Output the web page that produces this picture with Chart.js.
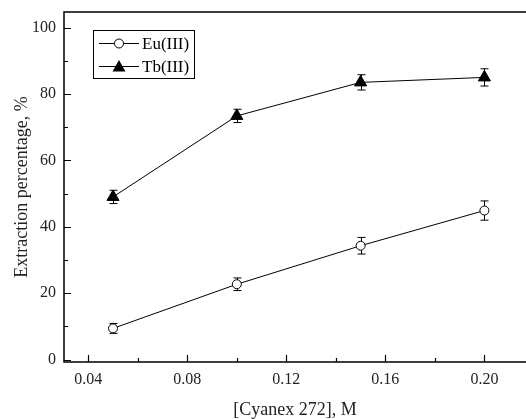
<!DOCTYPE html>
<html lang="en">
<head>
<meta charset="UTF-8" />
<title>Extraction percentage vs Cyanex 272</title>
<script src="https://cdn.jsdelivr.net/npm/chart.js"></script>
<style>
  body { margin: 0; background: #fff; }
  #myChart { display: block; }
</style>
</head>
<body>
<canvas id="myChart" width="526" height="419"></canvas>
<script>
  // data
  var concentrations = [0.05, 0.10, 0.15, 0.20];
  var euValues = [9.4, 22.7, 34.3, 44.9];
  var euErrors = [1.5, 1.9, 2.5, 2.9];
  var tbValues = [49.0, 73.4, 83.5, 85.0];
  var tbErrors = [2.0, 2.0, 2.3, 2.6];
  var seriesNames = ["Eu(III)", "Tb(III)"];

  // axis ticks
  var xTicks = [0.04, 0.06, 0.08, 0.10, 0.12, 0.14, 0.16, 0.18, 0.20];
  var xLabelled = [0.04, 0.08, 0.12, 0.16, 0.20];
  var yTicks = [0, 10, 20, 30, 40, 50, 60, 70, 80, 90, 100];
  var yLabelled = [0, 20, 40, 60, 80, 100];

  var serif = "'Liberation Serif', 'DejaVu Serif', serif";

  function isLabelled(list, v) {
    return list.some(function (t) { return Math.abs(t - v) < 1e-9; });
  }

  function toPoints(values) {
    return values.map(function (v, i) { return { x: concentrations[i], y: v }; });
  }

  // axes frame (right side falls off the picture) + inward ticks
  var framePlugin = {
    id: "frame",
    afterDraw: function (chart) {
      var ctx = chart.ctx;
      var a = chart.chartArea;
      var xs = chart.scales.x;
      var ys = chart.scales.y;
      ctx.save();
      ctx.strokeStyle = "#000";
      ctx.lineWidth = 1.5;
      ctx.beginPath();
      ctx.moveTo(chart.width, a.top);
      ctx.lineTo(a.left, a.top);
      ctx.lineTo(a.left, a.bottom);
      ctx.lineTo(chart.width, a.bottom);
      ctx.stroke();
      ctx.lineWidth = 1.2;
      ctx.beginPath();
      xs.ticks.forEach(function (t) {
        var px = Math.round(xs.getPixelForValue(t.value)) + 0.5;
        var len = isLabelled(xLabelled, t.value) ? 7 : 4;
        ctx.moveTo(px, a.bottom);
        ctx.lineTo(px, a.bottom - len);
      });
      ys.ticks.forEach(function (t) {
        var py = Math.round(ys.getPixelForValue(t.value)) + 0.5;
        var len = isLabelled(yLabelled, t.value) ? 7 : 4;
        ctx.moveTo(a.left, py);
        ctx.lineTo(a.left + len, py);
      });
      ctx.stroke();
      ctx.restore();
    }
  };

  // error bars, drawn under the markers
  var errorBarPlugin = {
    id: "errorBars",
    beforeDatasetsDraw: function (chart) {
      var ctx = chart.ctx;
      var ys = chart.scales.y;
      ctx.save();
      ctx.strokeStyle = "#000";
      ctx.lineWidth = 1;
      chart.data.datasets.forEach(function (ds, di) {
        var meta = chart.getDatasetMeta(di);
        meta.data.forEach(function (pt, i) {
          var v = ds.data[i].y;
          var e = ds.errors[i];
          var top = ys.getPixelForValue(v + e);
          var bot = ys.getPixelForValue(v - e);
          var x = Math.round(pt.x) + 0.5;
          ctx.beginPath();
          ctx.moveTo(x, top);
          ctx.lineTo(x, bot);
          ctx.moveTo(x - 4, top);
          ctx.lineTo(x + 4, top);
          ctx.moveTo(x - 4, bot);
          ctx.lineTo(x + 4, bot);
          ctx.stroke();
        });
      });
      ctx.restore();
    }
  };

  function drawMarker(ctx, style, x, y) {
    ctx.beginPath();
    if (style === "circle") {
      ctx.arc(x, y, 4.5, 0, Math.PI * 2);
      ctx.fillStyle = "#fff";
      ctx.fill();
      ctx.stroke();
    } else {
      ctx.moveTo(x, y - 6.5);
      ctx.lineTo(x + 6.5, y + 5);
      ctx.lineTo(x - 6.5, y + 5);
      ctx.closePath();
      ctx.fillStyle = "#000";
      ctx.fill();
    }
  }

  // legend box in the upper left of the plot
  var legendPlugin = {
    id: "boxLegend",
    afterDraw: function (chart) {
      var ctx = chart.ctx;
      ctx.save();
      ctx.strokeStyle = "#000";
      ctx.lineWidth = 1;
      ctx.strokeRect(93.5, 30.5, 101, 48);
      ctx.font = "17px " + serif;
      ctx.textBaseline = "middle";
      ctx.fillStyle = "#000";
      chart.data.datasets.forEach(function (ds, i) {
        var y = 43.5 + i * 23;
        ctx.beginPath();
        ctx.moveTo(99, y);
        ctx.lineTo(139, y);
        ctx.stroke();
        drawMarker(ctx, ds.pointStyle, 119, y);
        ctx.fillStyle = "#000";
        ctx.fillText(ds.label, 142, y + 1);
      });
      ctx.restore();
    }
  };

  var ctx = document.getElementById("myChart").getContext("2d");
  new Chart(ctx, {
    type: "line",
    data: {
      datasets: [
        {
          label: seriesNames[0],
          data: toPoints(euValues),
          errors: euErrors,
          borderColor: "#000",
          borderWidth: 1,
          pointStyle: "circle",
          pointRadius: 4.5,
          pointBackgroundColor: "#fff",
          pointBorderColor: "#000",
          pointBorderWidth: 1,
          tension: 0
        },
        {
          label: seriesNames[1],
          data: toPoints(tbValues),
          errors: tbErrors,
          borderColor: "#000",
          borderWidth: 1,
          pointStyle: "triangle",
          pointRadius: 7,
          pointBackgroundColor: "#000",
          pointBorderColor: "#000",
          pointBorderWidth: 1,
          tension: 0
        }
      ]
    },
    options: {
      responsive: false,
      devicePixelRatio: 1,
      animation: false,
      layout: { autoPadding: false, padding: { top: 12, right: 0, left: 0, bottom: 0 } },
      plugins: {
        legend: { display: false },
        tooltip: { enabled: false }
      },
      scales: {
        x: {
          type: "linear",
          min: 0.0302,
          max: 0.2168,
          afterBuildTicks: function (scale) {
            scale.ticks = xTicks.map(function (v) { return { value: v }; });
          },
          afterFit: function (scale) {
            scale.height = 57;
            scale.paddingLeft = 0;
            scale.paddingRight = 0;
          },
          grid: { display: false, drawTicks: false },
          border: { display: false },
          ticks: {
            autoSkip: false,
            maxRotation: 0,
            padding: 8,
            color: "#222",
            font: { family: serif, size: 16 },
            callback: function (v) {
              return isLabelled(xLabelled, v) ? v.toFixed(2) : "";
            }
          },
          title: {
            display: true,
            text: "[Cyanex 272], M",
            color: "#222",
            font: { family: serif, size: 18, lineHeight: 1 },
            padding: { top: 4, bottom: 0 }
          }
        },
        y: {
          min: -0.72,
          max: 104.7,
          afterBuildTicks: function (scale) {
            scale.ticks = yTicks.map(function (v) { return { value: v }; });
          },
          afterFit: function (scale) {
            scale.width = 64;
            scale.paddingTop = 0;
            scale.paddingBottom = 0;
          },
          grid: { display: false, drawTicks: false },
          border: { display: false },
          ticks: {
            autoSkip: false,
            padding: 8,
            color: "#222",
            font: { family: serif, size: 16 },
            callback: function (v) {
              return isLabelled(yLabelled, v) ? String(v) : "";
            }
          },
          title: {
            display: true,
            text: "Extraction percentage, %",
            color: "#222",
            font: { family: serif, size: 18 },
            padding: { top: 11, bottom: 0 }
          }
        }
      }
    },
    plugins: [errorBarPlugin, framePlugin, legendPlugin]
  });
</script>
</body>
</html>
